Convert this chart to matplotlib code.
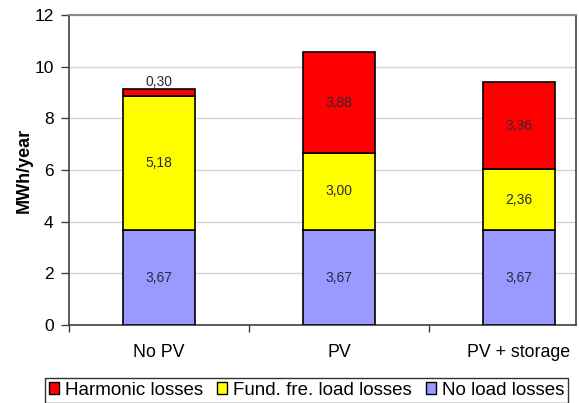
import matplotlib
matplotlib.use("Agg")
import matplotlib.pyplot as plt
import numpy as np
from matplotlib.patches import Patch

plt.rcParams['font.family'] = ['Liberation Sans', 'DejaVu Sans']

categories = ["No PV", "PV", "PV + storage"]
no_load = [3.67, 3.67, 3.67]
fund_load = [5.18, 3.00, 2.36]
harmonic = [0.30, 3.88, 3.36]
series_names = ["Harmonic losses", "Fund. fre. load losses", "No load losses"]
colors = {"No load losses": "#9999FF", "Fund. fre. load losses": "#FFFF00", "Harmonic losses": "#FF0000"}

W, H = 579, 403
fig = plt.figure(figsize=(W / 100, H / 100), dpi=100)
ax = fig.add_axes([69 / W, (H - 325) / H, (576 - 69) / W, (325 - 15) / H])

x = np.arange(len(categories))
bw = 0.4
ax.bar(x, no_load, bw, color=colors["No load losses"], edgecolor="black", linewidth=1.2, zorder=3)
ax.bar(x, fund_load, bw, bottom=no_load, color=colors["Fund. fre. load losses"], edgecolor="black", linewidth=1.2, zorder=3)
bot3 = np.array(no_load) + np.array(fund_load)
ax.bar(x, harmonic, bw, bottom=bot3, color=colors["Harmonic losses"], edgecolor="black", linewidth=1.2, zorder=3)

def fmt(v):
    return f"{v:.2f}".replace(".", ",")

lab_kw = dict(ha="center", va="center", fontsize=10, color="#2a2a3a", zorder=4)
for i in range(len(categories)):
    ax.text(x[i], no_load[i] / 2, fmt(no_load[i]), **lab_kw)
    ax.text(x[i], no_load[i] + fund_load[i] / 2, fmt(fund_load[i]), **lab_kw)
    if harmonic[i] < 1:
        ax.text(x[i], bot3[i] + harmonic[i] + 0.25, fmt(harmonic[i]), **lab_kw)
    else:
        ax.text(x[i], bot3[i] + harmonic[i] / 2, fmt(harmonic[i]), **lab_kw)

ax.set_ylim(0, 12)
ax.set_yticks(np.arange(0, 13, 2))
ax.set_xlim(-0.5, 2.317)
ax.set_xticks([-0.5, 0.5, 1.5], minor=False)
ax.set_xticklabels([])
ax.set_xticks(x, minor=True)
ax.set_xticklabels(categories, minor=True)
ax.tick_params(axis="x", which="minor", length=0, pad=14, labelsize=12.8)
ax.tick_params(axis="x", which="major", length=5, width=1, color="#404040", direction="out")
ax.tick_params(axis="y", length=6, width=1, color="#404040", labelsize=12.5, pad=5)

ax.yaxis.grid(True, color="#D4D4D4", linewidth=1, zorder=0)
ax.set_axisbelow(True)
for s in ["left", "bottom", "right"]:
    ax.spines[s].set_color("#404040")
    ax.spines[s].set_linewidth(1.2)
ax.spines["top"].set_color("#888888")
ax.spines["top"].set_linewidth(1.5)

ax.set_ylabel("MWh/year", fontsize=13, fontweight="bold", va="center")
ax.yaxis.set_label_coords((24 - 69) / 507, 0.5)

handles = [Patch(facecolor=colors[n], edgecolor="black", linewidth=1) for n in series_names]
leg = fig.legend(handles, series_names, loc="upper left",
                 bbox_to_anchor=(45 / W, 1 - 378 / H), ncol=3, fontsize=13.5,
                 frameon=True, fancybox=False, handlelength=0.55, handleheight=0.55,
                 handletextpad=0.3, columnspacing=0.75, borderpad=0.2, borderaxespad=0)
leg.get_frame().set_edgecolor("black")
leg.get_frame().set_linewidth(1)

fig.savefig("out.png", dpi=100)
